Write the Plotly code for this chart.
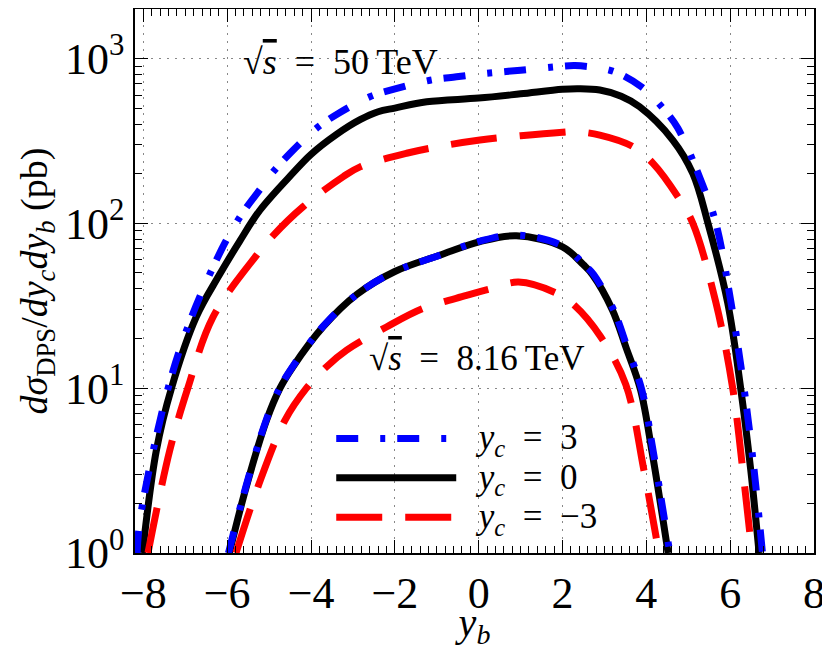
import plotly.graph_objects as go

# sqrt(s) = 50 TeV
yb_50_c0 = [-8.02, -7.69, -7.33, -6.74, -6.2, -5.70, -5.22, -4.43, -4.0, -3.4, -2.83, -2.4, -2.0, -1.24, 0.0, 1.0, 2.0, 2.4, 2.89, 3.4, 3.84, 4.63, 5.11, 5.47, 5.94, 6.25, 6.49, 6.69]
xs_50_c0 = [1.0, 4.2, 10, 27, 48, 78, 120, 202, 262, 345, 425, 475, 500, 546, 575, 610, 650, 655, 643, 590, 509, 320, 200, 100, 33, 10, 3.2, 1.0]

yb_50_c3 = [-8.15, -8.07, -7.41, -6.85, -6.14, -5.79, -5.54, -5.22, -4.94, -4.5, -3.87, -3.35, -2.6, -2.04, -1.16, -0.53, 0.0, 1.0, 2.0, 2.3, 2.8, 3.25, 3.88, 4.43, 4.75, 5.34, 5.66, 6.02, 6.33, 6.57, 6.77]
xs_50_c3 = [1.0, 1.66, 10, 27, 69, 100, 125, 160, 200, 266, 377, 464, 585, 649, 738, 774, 804, 849, 898, 905, 880, 829, 673, 488, 378, 172, 100, 33, 10, 3.2, 1.0]

yb_50_cm3 = [-7.89, -7.37, -6.94, -6.34, -5.30, -4.91, -4.19, -3.23, -2.83, -1.72, -0.89, 0.03, 1.0, 2.0, 2.3, 2.89, 3.68, 4.16, 4.75, 5.11, 5.66, 6.06, 6.3, 6.52]
xs_50_cm3 = [1.0, 4.2, 10, 27, 64, 84, 126, 192, 220, 266, 294, 320, 340, 357, 360, 343, 292, 231, 145, 100, 33, 10, 3.2, 1.0]

# sqrt(s) = 8.16 TeV
yb_8_c0 = [-5.95, -5.54, -5.06, -4.74, -4.43, -3.71, -2.91, -2.0, -0.93, 0.03, 0.9, 2.0, 2.5, 2.71, 3.19, 3.51, 3.86, 4.14, 4.52]
xs_8_c0 = [1.0, 2.55, 6.4, 10, 13.5, 23.6, 37, 51, 64, 77.4, 84, 72, 56, 49, 29.8, 17.8, 9.8, 4.05, 1.0]

yb_8_c3 = [-5.97, -5.55, -5.07, -4.75, -4.44, -3.72, -2.91, -2.0, -0.93, 0.03, 0.9, 2.0, 2.52, 2.74, 3.22, 3.54, 3.89, 4.17, 4.56]
xs_8_c3 = [1.0, 2.55, 6.4, 10, 13.5, 23.6, 37, 51, 64, 78, 85, 73, 56, 49, 29.8, 17.8, 9.8, 4.05, 1.0]

yb_8_cm3 = [-5.79, -5.26, -4.62, -4.11, -3.63, -3.15, -2.2, -1.32, -0.29, 0.27, 0.95, 1.86, 2.27, 2.91, 3.51, 3.94, 4.3]
xs_8_cm3 = [1.0, 2.55, 6.4, 10, 13.5, 17, 23.5, 30.5, 36.5, 40, 44, 37.6, 32, 20.5, 10.5, 3.2, 1.0]

x_ticks = [-8, -6, -4, -2, 0, 2, 4, 6, 8]
y_ticks = [1, 10, 100, 1000]
y_tick_labels = ["10<sup>0</sup>", "10<sup>1</sup>", "10<sup>2</sup>", "10<sup>3</sup>"]

FONT = "Liberation Serif"

styles = {
    "c3": dict(color="#0000ff", width=7, dash="22px,22px,5px,12px"),
    "c0": dict(color="#000000", width=7),
    "cm3": dict(color="#ff0000", width=7, dash="46px,23px"),
}
legend_text = "<span style='font-size:35px'>\u2002<i>y<sub>c</sub></i>\u2002=\u2002{}</span>"
names = {
    "c3": legend_text.format("3"),
    "c0": legend_text.format("0"),
    "cm3": legend_text.format("\u22123"),
}
ranks = {"c3": 1, "c0": 2, "cm3": 3}

curves = [
    ("c0", yb_50_c0, xs_50_c0, True),
    ("c0", yb_8_c0, xs_8_c0, False),
    ("cm3", yb_50_cm3, xs_50_cm3, True),
    ("cm3", yb_8_cm3, xs_8_cm3, False),
    ("c3", yb_50_c3, xs_50_c3, True),
    ("c3", yb_8_c3, xs_8_c3, False),
]

fig = go.Figure()
for key, xv, yv, show in curves:
    fig.add_trace(go.Scatter(
        x=xv, y=yv, mode="lines", name=names[key],
        line=dict(shape="spline", smoothing=1.0, **styles[key]),
        legendgroup=key, showlegend=show, legendrank=ranks[key],
    ))

sqrt_s = "\u221a<span style='text-decoration:overline'><i>s</i></span>"
fig.add_annotation(x=-3.3, y=2.98, xref="x", yref="y",
                   text=sqrt_s + "\u2002=\u200250\u2009TeV",
                   showarrow=False, font=dict(size=36, color="black", family=FONT))
fig.add_annotation(x=-0.04, y=1.18, xref="x", yref="y",
                   text=sqrt_s + "\u2002=\u20028.16\u2009TeV",
                   showarrow=False, font=dict(size=35, color="black", family=FONT))

axis_common = dict(
    showline=True, linecolor="black", linewidth=1.5, mirror="allticks",
    ticks="inside", ticklen=13, tickwidth=1.2, tickcolor="black",
    showgrid=True, gridcolor="#888888", gridwidth=1, griddash="2px,6px",
    zeroline=False, automargin=False,
    tickfont=dict(size=44, color="black", family=FONT),
)

fig.update_xaxes(
    range=[-8.2, 8], tickvals=x_ticks,
    ticktext=[str(t).replace("-", "\u2212") for t in x_ticks],
    minor=dict(ticks="inside", ticklen=7, tickcolor="black", dtick=0.2, showgrid=False),
    title=dict(text="<i>y<sub>b</sub></i>", font=dict(size=40, color="black", family=FONT), standoff=0),
    **axis_common,
)
fig.update_yaxes(
    type="log", range=[0, 3.3], tickvals=y_ticks, ticktext=y_tick_labels,
    minor=dict(ticks="inside", ticklen=7, tickcolor="black", dtick="D1", showgrid=False),
    title=dict(text="<i>d\u03c3</i><sub>DPS</sub>/<i>dy<sub>c</sub>dy<sub>b</sub></i> (pb)",
               font=dict(size=38, color="black", family=FONT), standoff=6),
    **axis_common,
)

# the page body adds an 8px offset, so the figure is a bit smaller than the window
fig.update_layout(
    width=822, height=642,
    margin=dict(l=127, r=16, t=1, b=97),
    paper_bgcolor="white", plot_bgcolor="white",
    font=dict(family=FONT, color="black"),
    legend=dict(x=0.289, y=0.256, xanchor="left", yanchor="top",
                bgcolor="rgba(0,0,0,0)", itemwidth=120, tracegroupgap=0,
                font=dict(size=28, family=FONT, color="black")),
)

fig.write_html("out.html")
